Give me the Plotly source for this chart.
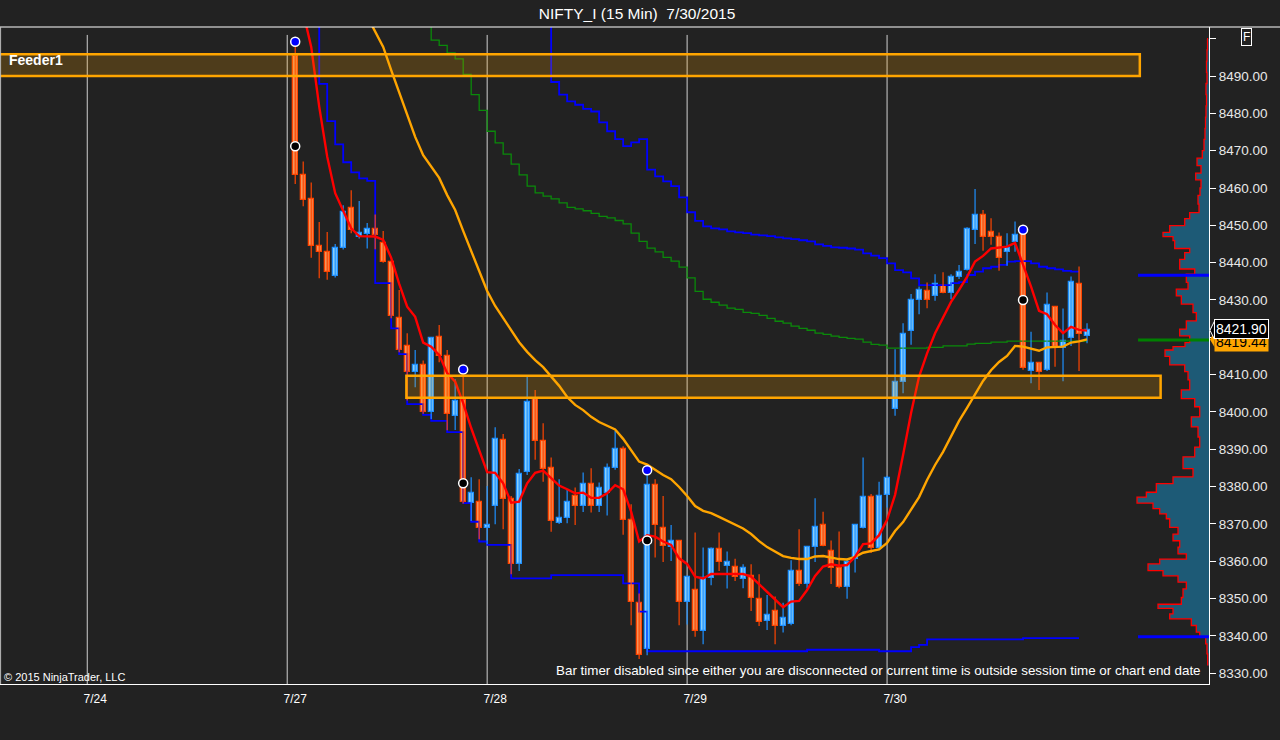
import plotly.graph_objects as go

# ---------------- data ----------------
opens = [8495.3, 8463.5, 8457.0, 8444.4, 8442.8, 8436.5, 8443.8, 8454.7, 8446.8, 8447.7,
         8449.0, 8445.4, 8440.1, 8425.3, 8417.6, 8410.8, 8412.7, 8399.9, 8420.0, 8414.9,
         8398.8, 8403.1, 8375.5, 8375.9, 8368.8, 8374.8, 8392.4, 8376.8, 8359.4, 8383.8,
         8403.4, 8392.1, 8384.9, 8370.2, 8371.5, 8377.4, 8374.7, 8380.6, 8374.8, 8378.4,
         8384.9, 8390.2, 8371.0, 8348.9, 8336.4, 8380.4, 8368.8, 8363.7, 8365.5, 8349.2,
         8352.3, 8341.2, 8355.6, 8363.4, 8358.8, 8358.6, 8355.2, 8356.1, 8350.0, 8344.0,
         8346.7, 8342.7, 8343.1, 8357.3, 8353.9, 8363.7, 8369.7, 8362.8, 8358.1, 8353.0,
         8360.7, 8369.0, 8377.3, 8363.5, 8377.8, 8400.9, 8407.9, 8421.7, 8430.1, 8432.5,
         8431.1, 8433.8, 8431.8, 8436.2, 8438.0, 8448.8, 8452.8, 8448.1, 8446.8, 8442.8,
         8445.6, 8447.9, 8411.0, 8413.0, 8411.2, 8428.0, 8417.1, 8419.7, 8434.4, 8420.4]
highs = [8498.6, 8467.1, 8461.5, 8450.9, 8448.2, 8445.0, 8455.4, 8459.4, 8456.5, 8450.6,
         8452.9, 8448.5, 8440.5, 8432.7, 8421.1, 8416.6, 8413.8, 8420.1, 8423.3, 8416.6,
         8408.8, 8410.6, 8382.5, 8382.0, 8380.2, 8395.9, 8394.1, 8377.5, 8384.7, 8409.7,
         8405.9, 8397.0, 8387.8, 8382.0, 8379.1, 8379.8, 8383.8, 8384.9, 8381.1, 8386.2,
         8394.9, 8390.8, 8375.3, 8351.4, 8383.1, 8382.0, 8377.5, 8369.7, 8365.7, 8356.2,
         8367.7, 8363.7, 8363.7, 8367.7, 8362.6, 8360.7, 8359.2, 8359.2, 8356.5, 8351.0,
         8350.6, 8348.9, 8360.3, 8368.6, 8363.9, 8376.9, 8373.3, 8365.6, 8368.0, 8360.7,
         8369.8, 8387.8, 8378.0, 8381.3, 8382.9, 8416.8, 8423.8, 8431.6, 8433.6, 8434.7,
         8436.9, 8437.4, 8436.9, 8439.4, 8449.5, 8459.7, 8454.1, 8451.9, 8448.1, 8447.9,
         8451.0, 8448.1, 8421.5, 8413.1, 8432.0, 8428.2, 8427.7, 8436.3, 8439.0, 8423.8]
lows = [8461.1, 8455.1, 8441.3, 8435.8, 8435.4, 8436.0, 8443.5, 8447.9, 8446.5, 8443.8,
        8443.6, 8440.0, 8425.1, 8416.0, 8403.1, 8406.6, 8399.5, 8398.1, 8413.3, 8395.1,
        8395.2, 8375.5, 8370.8, 8365.9, 8364.6, 8369.9, 8368.6, 8356.5, 8357.4, 8383.1,
        8387.2, 8381.3, 8367.9, 8370.0, 8370.2, 8369.7, 8373.2, 8373.1, 8373.2, 8372.3,
        8384.5, 8367.1, 8342.9, 8333.8, 8334.8, 8361.0, 8359.8, 8360.1, 8342.9, 8343.1,
        8339.8, 8337.8, 8353.6, 8357.4, 8352.7, 8354.7, 8352.8, 8346.7, 8342.7, 8341.6,
        8337.8, 8340.9, 8342.9, 8353.4, 8352.7, 8359.8, 8364.0, 8353.9, 8352.8, 8350.0,
        8357.0, 8368.8, 8362.2, 8363.3, 8374.4, 8399.0, 8405.0, 8418.0, 8426.2, 8427.8,
        8429.8, 8431.8, 8430.2, 8435.6, 8437.9, 8445.0, 8443.2, 8444.8, 8437.8, 8439.2,
        8442.9, 8411.3, 8407.7, 8405.9, 8411.0, 8412.1, 8408.2, 8417.7, 8411.0, 8418.4]
closes = [8463.5, 8456.9, 8444.4, 8442.8, 8437.4, 8443.8, 8453.7, 8448.8, 8447.9, 8449.0,
          8447.4, 8440.1, 8425.6, 8416.7, 8410.8, 8412.7, 8399.9, 8419.7, 8414.9, 8399.4,
          8402.9, 8375.8, 8378.4, 8368.8, 8369.7, 8392.7, 8376.8, 8359.4, 8383.3, 8402.8,
          8392.1, 8384.7, 8370.8, 8371.5, 8375.9, 8374.7, 8380.6, 8374.8, 8379.6, 8384.9,
          8390.2, 8371.1, 8349.2, 8334.9, 8380.4, 8369.7, 8364.0, 8365.5, 8349.2, 8355.9,
          8341.2, 8355.5, 8363.4, 8359.7, 8359.7, 8355.9, 8358.1, 8350.3, 8343.8, 8345.7,
          8342.7, 8344.7, 8357.4, 8353.9, 8363.7, 8369.3, 8364.1, 8358.1, 8353.0, 8359.8,
          8369.7, 8377.1, 8363.5, 8377.5, 8382.3, 8407.9, 8421.0, 8430.0, 8432.7, 8430.1,
          8434.4, 8432.0, 8436.1, 8437.4, 8449.0, 8452.8, 8447.0, 8446.8, 8441.3, 8443.8,
          8447.4, 8411.7, 8413.1, 8410.8, 8428.7, 8417.5, 8418.9, 8434.7, 8420.9, 8421.9]
bar_slots = list(range(len(closes)))

day_tick_slots = [-25, 0, 25, 50, 75]
day_labels = ["7/24", "7/27", "7/28", "7/29", "7/30"]
day_line_slots = [-26, -1, 24, 49, 74]

red_start = 1
red_vals = [8507, 8497.8, 8481.8, 8468.4, 8458.6, 8453.7, 8449.2, 8447.1, 8447.1, 8447.0,
            8446.1, 8441.3, 8434.3, 8428.2, 8425.5, 8418.6, 8417.5, 8415.3, 8410.4, 8408.1,
            8402.4, 8395.7, 8389.8, 8383.9, 8383.7, 8380.9, 8375.7, 8376.0, 8380.9, 8383.7,
            8384.3, 8382.2, 8380.3, 8379.3, 8378.2, 8378.4, 8377.0, 8377.0, 8378.2, 8380.4,
            8379.3, 8373.3, 8365.3, 8367.0, 8366.6, 8365.3, 8364.4, 8360.8, 8359.3, 8355.9,
            8355.4, 8356.6, 8356.5, 8356.6, 8356.6, 8356.6, 8355.9, 8353.9, 8351.9, 8349.9,
            8347.7, 8349.2, 8349.4, 8352.3, 8356.1, 8358.6, 8359.2, 8358.8, 8359.0, 8361.2,
            8364.6, 8364.8, 8367.0, 8371.1, 8377.8, 8388.5, 8399.7, 8409.5, 8415.7, 8421.1,
            8425.5, 8429.5, 8432.7, 8436.2, 8440.3, 8441.8, 8443.8, 8444.1, 8444.3, 8445.3,
            8439.4, 8433.6, 8427.1, 8426.2, 8423.3, 8421.1, 8422.8, 8422.0, 8421.8]

orange_start = 9
orange_vals = [8506, 8501.8, 8497.8, 8491.6, 8485.7, 8479.8, 8473.7, 8468.8, 8465.9, 8462.7,
               8458.1, 8454.1, 8448.5, 8443.1, 8437.8, 8432.4, 8428.4, 8425.2, 8422.0, 8418.7,
               8416.1, 8413.9, 8412.0, 8409.6, 8407.0, 8404.0, 8401.9, 8400.5, 8398.7, 8397.3,
               8396.2, 8395.3, 8392.8, 8389.8, 8386.7, 8385.9, 8384.5, 8383.1, 8382.0, 8379.9,
               8377.5, 8374.8, 8373.5, 8372.9, 8371.9, 8370.8, 8369.7, 8368.8, 8367.3, 8365.4,
               8363.8, 8362.5, 8361.4, 8360.9, 8360.6, 8360.6, 8361.3, 8361.4, 8361.0, 8360.6,
               8360.5, 8361.2, 8362.3, 8362.8, 8363.2, 8364.9, 8368.1, 8370.5, 8373.7, 8377.2,
               8381.8, 8385.8, 8389.3, 8393.3, 8397.6, 8401.1, 8404.8, 8408.3, 8411.2, 8413.4,
               8415.0, 8417.7, 8417.5, 8417.0, 8416.4, 8417.3, 8417.4, 8417.5, 8418.6, 8418.9,
               8419.44]

green_start = 16
green_vals = [8510, 8499.6, 8498.2, 8496.2, 8494.6, 8490.4, 8485.0, 8480.8, 8475.2, 8472.1,
              8469.1, 8466.4, 8463.5, 8460.5, 8458.7, 8457.8, 8457.1, 8456.0, 8454.8, 8454.4,
              8453.9, 8453.2, 8452.4, 8452.0, 8451.3, 8450.4, 8447.9, 8445.7, 8443.9, 8442.9,
              8441.4, 8440.4, 8438.8, 8435.9, 8432.3, 8430.2, 8429.4, 8428.6, 8427.8, 8427.5,
              8426.7, 8426.4, 8425.9, 8425.1, 8424.3, 8423.8, 8423.0, 8422.4, 8421.9, 8421.1,
              8420.8, 8420.3, 8420.0, 8419.7, 8419.5, 8418.7, 8418.1, 8417.9, 8417.1, 8417.1,
              8417.1, 8417.1, 8417.1, 8417.3, 8417.3, 8417.7, 8417.7, 8417.7, 8418.2, 8418.4,
              8418.4, 8418.7, 8418.7, 8419.0, 8419.0, 8419.0, 8419.0, 8419.0, 8419.0, 8419.0,
              8419.0, 8419.0, 8419.0, 8419.0]

trail_start = 2
trail_vals = [8510, 8487.9, 8477.9, 8471.7, 8466.9, 8464.2, 8462.6, 8461.9, 8434.5, 8434.5,
              8422.4, 8415.5, 8402.1, 8402.1, 8399.2, 8397.6, 8397.6, 8394.6, 8394.6, 8375.6,
              8370.6, 8365.3, 8364.4, 8364.4, 8364.4, 8355.4, 8355.4, 8355.4, 8355.4, 8355.4,
              8356.3, 8356.3, 8356.3, 8356.3, 8356.3, 8356.3, 8356.3, 8356.3, 8356.3, 8354.1,
              8354.1, 8346.5, 8335.9, 8335.9, 8335.9, 8335.9, 8335.9, 8335.9, 8335.9, 8335.9,
              8335.9, 8335.9, 8335.9, 8335.9, 8335.9, 8335.9, 8335.9, 8335.9, 8335.9, 8335.9,
              8335.9, 8335.9, 8336.3, 8336.3, 8336.3, 8336.3, 8336.3, 8336.3, 8336.3, 8336.3,
              8336.3, 8335.9, 8335.9, 8335.9, 8335.9, 8337.0, 8337.6, 8339.1, 8339.1, 8339.1,
              8339.1, 8339.1, 8339.1, 8339.1, 8339.1, 8339.1, 8339.1, 8339.1, 8339.1, 8339.4,
              8339.4, 8339.4, 8339.4, 8339.4, 8339.4, 8339.4, 8339.4]

upper_start = 31
upper_vals = [8510, 8488.4, 8485.0, 8483.2, 8482.3, 8481.2, 8480.5, 8477.6, 8475.2, 8473.1,
              8471.2, 8472.2, 8473.1, 8464.9, 8463.1, 8461.8, 8460.5, 8457.5, 8453.5, 8451.2,
              8449.7, 8449.2, 8448.9, 8448.4, 8448.1, 8447.9, 8447.5, 8447.3, 8447.1, 8446.8,
              8446.5, 8446.3, 8446.0, 8445.7, 8444.9, 8444.5, 8444.1, 8444.0, 8443.8, 8443.5,
              8442.5, 8441.9, 8441.2, 8439.8, 8438.0, 8437.4, 8435.8, 8434.0, 8434.0, 8434.0,
              8434.0, 8434.5, 8434.8, 8436.7, 8437.6, 8438.5, 8438.9, 8439.4, 8440.3, 8440.4,
              8440.4, 8439.8, 8438.9, 8438.5, 8438.2, 8437.8, 8437.6, 8437.6]

swing_slots = [0, 21, 44, 91]
swing_high_marks = [8499.2, 8411.4, 8384.4, 8448.8]
swing_mid_marks = [8471.2, 8380.9, 8365.6, 8430.0]

zone_top = dict(slot0=-40, slot1=105.6, lo=8490.0, hi=8495.8, label="Feeder1")
zone_mid = dict(slot0=13.9, slot1=108.2, lo=8403.8, hi=8409.7)

profile_prices = [8500, 8497, 8494, 8491, 8488, 8485, 8482, 8479, 8476, 8473, 8470, 8468,
                  8466, 8464, 8462.2, 8460, 8458, 8455.7, 8453.4, 8451.8, 8449.9, 8448.1,
                  8447, 8445.9, 8443.8, 8442.7, 8440.9, 8438.3, 8436.9, 8434.7, 8432.9, 8431.1,
                  8428.9, 8426.6, 8424.4, 8422.2, 8420.4, 8418.6, 8417.5, 8416.6, 8414.9,
                  8412.6, 8410.8, 8408.6, 8405.9, 8403.6, 8401.4, 8398.7, 8396, 8393.3, 8390.6,
                  8388, 8384.8, 8382.6, 8380.8, 8378.5, 8377.2, 8375.6, 8374.1, 8372.7, 8371.4,
                  8369.1, 8367.3, 8365.5, 8363.8, 8362, 8360.6, 8359.3, 8357.5, 8356.1, 8354.4,
                  8352.6, 8350.3, 8348.5, 8347.4, 8345.9, 8344.6, 8342.8, 8341, 8339.7, 8337.9,
                  8335.2, 8332.1]
profile_volume = [2, 1.5, 2, 2.5, 2, 3, 2.5, 3, 3.5, 4, 5, 6.7,
                  12, 8, 13.3, 8, 9, 11, 10, 19.3, 24.3, 39.3,
                  46, 36, 34.3, 19.3, 24.3, 29.3, 14.3, 22.7, 21, 32.7,
                  27.7, 16, 12.7, 22.7, 29.3, 19.3, 24, 36, 44,
                  39.3, 24.3, 21, 19.3, 27.7, 14.3, 9.3, 17.7, 11, 9.3,
                  14.3, 26, 16, 36, 52.7, 62.7, 72, 56, 49.3, 42.7,
                  39.3, 31, 36, 29.3, 31, 22.7, 49.3, 61, 46, 31,
                  22.7, 26, 27.7, 51, 36, 39.3, 17.7, 12.7, 9.3, 3.3,
                  2, 1.3]
profile_levels = [8436.6, 8419.3, 8339.8]
profile_level_colors = ["#0000ff", "#008000", "#0000ff"]
profile_level_len = 71

last_price = 8421.90
orange_last = 8419.44

BG = "#222222"
UP_LINE, UP_FILL = "#1e90ff", "#87cefa"
DN_LINE, DN_FILL = "#ff4500", "#f4945a"
Y_LO, Y_HI = 8327.13, 8503.13
X_LO, X_HI = -36.91, 114.25

fig = go.Figure()

# ---- indicator step lines ----
def span(start, vals):
    return list(range(start, start + len(vals)))

fig.add_trace(go.Scatter(x=span(green_start, green_vals), y=green_vals, mode="lines",
                         line=dict(color="#0a8a0a", width=1.3, shape="hv"), hoverinfo="skip"))
fig.add_trace(go.Scatter(x=span(upper_start, upper_vals), y=upper_vals, mode="lines",
                         line=dict(color="#0000ff", width=1.8, shape="hv"), hoverinfo="skip"))
fig.add_trace(go.Scatter(x=span(trail_start, trail_vals), y=trail_vals, mode="lines",
                         line=dict(color="#0000ff", width=1.8, shape="hv"), hoverinfo="skip"))

# ---- candles ----
for up in (True, False):
    idx = [i for i in bar_slots if (closes[i] >= opens[i]) == up]
    wx, wy = [], []
    for i in idx:
        wx += [i, i, None]
        wy += [lows[i], highs[i], None]
    fig.add_trace(go.Scatter(x=wx, y=wy, mode="lines",
                             line=dict(color=UP_LINE if up else DN_LINE, width=1.2),
                             hoverinfo="skip"))
    fig.add_trace(go.Bar(x=idx,
                         y=[max(abs(closes[i] - opens[i]), 0.25) for i in idx],
                         base=[min(opens[i], closes[i]) for i in idx],
                         width=0.62,
                         marker=dict(color=UP_FILL if up else DN_FILL,
                                     line=dict(color=UP_LINE if up else DN_LINE, width=1.3)),
                         hoverinfo="skip"))

# ---- moving averages ----
fig.add_trace(go.Scatter(x=span(orange_start, orange_vals), y=orange_vals, mode="lines",
                         line=dict(color="#ffa500", width=2.4), hoverinfo="skip"))
fig.add_trace(go.Scatter(x=span(red_start, red_vals), y=red_vals, mode="lines",
                         line=dict(color="#ff0000", width=2.4), hoverinfo="skip"))

# ---- swing markers ----
fig.add_trace(go.Scatter(x=swing_slots, y=swing_high_marks, mode="markers",
                         marker=dict(size=9, color="#0000ff", line=dict(color="white", width=1.5)),
                         hoverinfo="skip"))
fig.add_trace(go.Scatter(x=swing_slots, y=swing_mid_marks, mode="markers",
                         marker=dict(size=9, color="#000000", line=dict(color="white", width=1.5)),
                         hoverinfo="skip"))

# ---- volume profile (on its own reversed x axis, growing from the right edge) ----
fig.add_trace(go.Scatter(x=profile_volume, y=profile_prices, xaxis="x2", mode="lines",
                         line=dict(color="#ff0000", width=1.3, shape="hv"),
                         fill="tozerox", fillcolor="#1d5a76", hoverinfo="skip"))
for lv, col in zip(profile_levels, profile_level_colors):
    fig.add_trace(go.Scatter(x=[profile_level_len, 0], y=[lv, lv], xaxis="x2", mode="lines",
                             line=dict(color=col, width=3), hoverinfo="skip"))

shapes = []
for s in day_line_slots:
    shapes.append(dict(type="line", xref="x", yref="y", x0=s, x1=s, y0=Y_LO, y1=8501.0,
                       line=dict(color="#d0d0d0", width=1), layer="below"))
for z in (zone_top, zone_mid):
    shapes.append(dict(type="rect", xref="x", yref="y", x0=z["slot0"], x1=z["slot1"],
                       y0=z["lo"], y1=z["hi"], line=dict(color="#ffa500", width=2.5),
                       fillcolor="rgba(255,165,0,0.2)", layer="above"))
# frame lines
shapes.append(dict(type="line", xref="paper", yref="paper", x0=0, x1=1.06, y0=1, y1=1,
                   line=dict(color="white", width=1)))
shapes.append(dict(type="line", xref="paper", yref="paper", x0=0.0005, x1=0.0005, y0=0, y1=1,
                   line=dict(color="#bbbbbb", width=1)))
# price label pointers
shapes.append(dict(type="path", xref="paper", yref="y",
                   path="M 1.0008 %f L 1.0045 %f L 1.0045 %f Z" % (orange_last, orange_last + 2.0, orange_last - 2.0),
                   fillcolor="#ffa500", line=dict(width=0)))
shapes.append(dict(type="path", xref="paper", yref="y",
                   path="M 1.0008 %f L 1.0045 %f L 1.0045 %f Z" % (last_price, last_price + 2.4, last_price - 2.4),
                   fillcolor="black", line=dict(color="white", width=1)))

annotations = [
    dict(text="<b>%s</b>" % zone_top["label"], x=-36.0, y=8494.2, xref="x", yref="y",
         xanchor="left", yanchor="middle", showarrow=False,
         font=dict(color="white", size=14, family="Liberation Sans")),
    dict(text="© 2015 NinjaTrader, LLC", x=0.002, y=0.0107, xref="paper", yref="paper",
         xanchor="left", yanchor="middle", showarrow=False,
         font=dict(color="white", size=11, family="Liberation Sans")),
    dict(text="Bar timer disabled since either you are disconnected or current time is outside session time or chart end date",
         x=0.9948, y=0.0198, xref="paper", yref="paper", xanchor="right", yanchor="middle",
         showarrow=False, font=dict(color="white", size=13.4, family="Liberation Sans")),
    dict(text="%.2f" % orange_last, x=1.0045, y=orange_last - 0.8, xref="paper", yref="y",
         xanchor="left", yanchor="middle", showarrow=False, bgcolor="#ffa500",
         borderpad=1, font=dict(color="black", size=14, family="Liberation Sans")),
    dict(text="%.2f" % last_price, x=1.0045, y=last_price + 0.3, xref="paper", yref="y",
         xanchor="left", yanchor="middle", showarrow=False, bgcolor="black",
         bordercolor="white", borderwidth=1, borderpad=1,
         font=dict(color="white", size=14, family="Liberation Sans")),
    dict(text="F", x=1.0312, y=0.9848, xref="paper", yref="paper", xanchor="center",
         yanchor="middle", showarrow=False, bordercolor="white", borderwidth=1, borderpad=1,
         font=dict(color="white", size=12, family="Liberation Sans")),
]

ytick_vals = [8330 + 10 * i for i in range(18)]
ytick_text = ["%.2f" % v for v in ytick_vals[:-1]] + [""]

fig.update_layout(
    width=1280, height=740,
    paper_bgcolor=BG, plot_bgcolor=BG,
    margin=dict(l=0, r=71, t=27, b=56, autoexpand=False),
    showlegend=False, barmode="overlay", bargap=0,
    font=dict(family="Liberation Sans", color="white"),
    title=dict(text="NIFTY_I (15 Min)  7/30/2015", x=0.4977, xref="container",
               y=0.982, yref="container", xanchor="center", yanchor="middle",
               font=dict(size=15.5, color="white", family="Liberation Sans")),
    xaxis=dict(range=[X_LO, X_HI], tickvals=day_tick_slots, ticktext=day_labels,
               showgrid=False, zeroline=False, showline=True, linecolor="white", linewidth=1,
               ticks="", ticklabelstandoff=4, tickfont=dict(size=12, color="white")),
    xaxis2=dict(overlaying="x", range=[1209.3, 0], visible=False, side="top"),
    yaxis=dict(range=[Y_LO, Y_HI], side="right", tickvals=ytick_vals, ticktext=ytick_text,
               showgrid=False, zeroline=False, showline=True, linecolor="white", linewidth=1,
               ticks="outside", ticklen=6, tickcolor="white",
               tickfont=dict(size=13.5, color="#e8e8e8")),
    shapes=shapes, annotations=annotations,
)

fig.write_html("out.html", config={"displayModeBar": False},
               post_script="document.body.style.margin='0';document.body.style.background='%s';" % BG)
